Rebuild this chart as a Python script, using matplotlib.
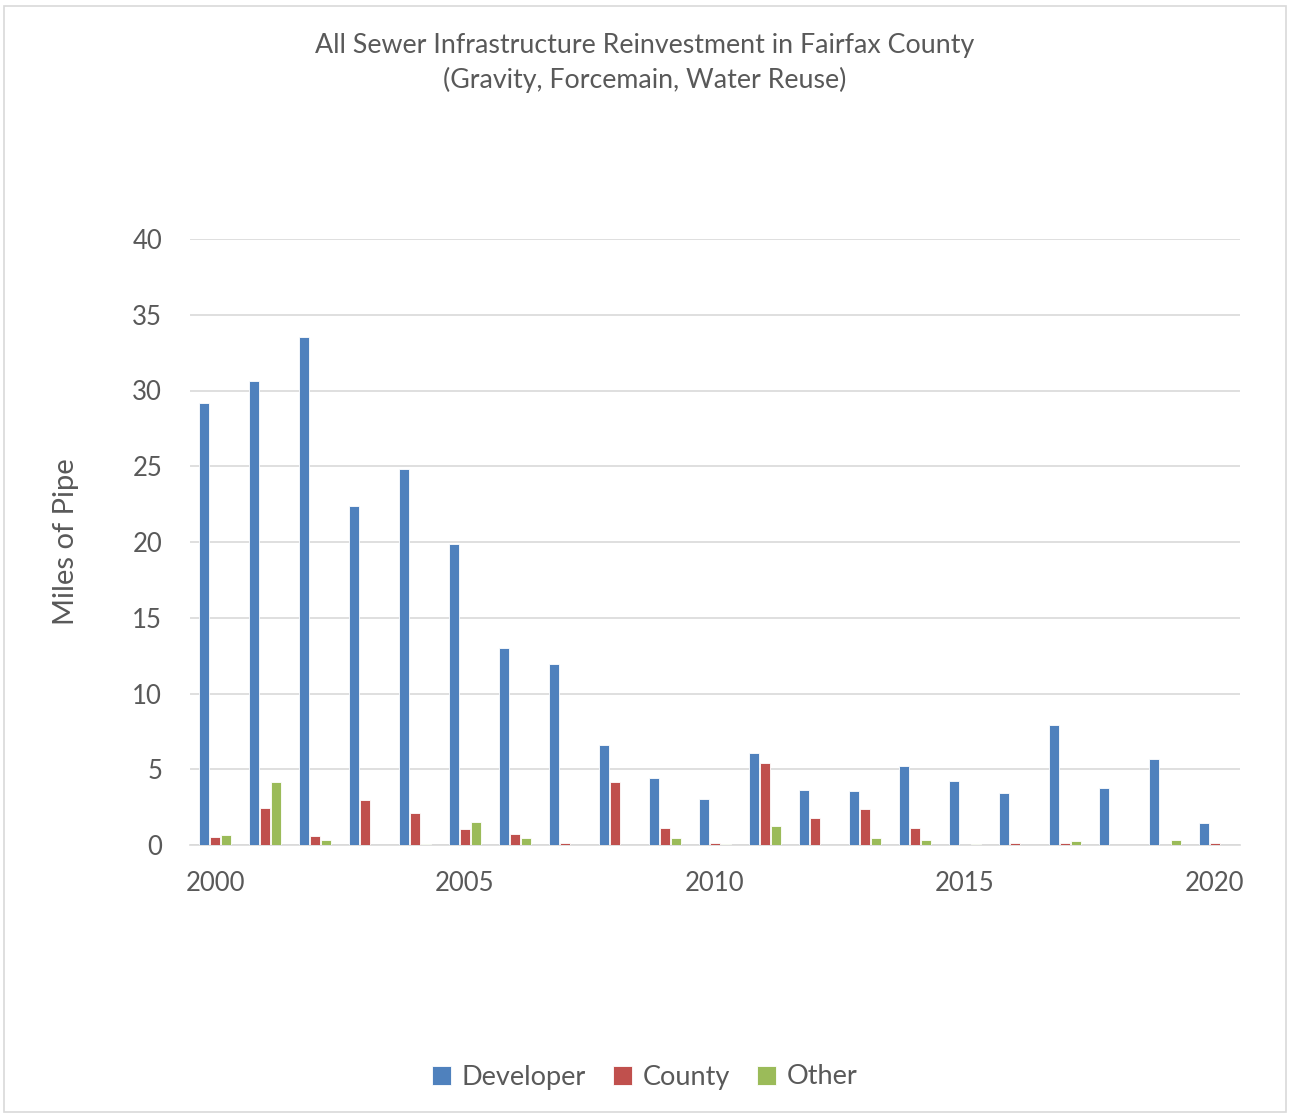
import matplotlib
matplotlib.use("Agg")
import matplotlib.pyplot as plt
import numpy as np
from matplotlib.patches import Rectangle

years = list(range(2000, 2021))
developer = [29.2, 30.6, 33.5, 22.4, 24.8, 19.9, 13.0, 11.95, 6.57, 4.4, 3.05,
             6.04, 3.65, 3.56, 5.24, 4.2, 3.41, 7.94, 3.74, 5.69, 1.46]
county = [0.53, 2.41, 0.6, 2.94, 2.1, 1.08, 0.73, 0.15, 4.14, 1.13, 0.13,
          5.4, 1.81, 2.39, 1.13, 0.0, 0.15, 0.15, 0.0, 0.0, 0.15]
other = [0.69, 4.18, 0.31, 0.0, 0.09, 1.55, 0.49, 0.0, 0.0, 0.49, 0.09,
         1.28, 0.0, 0.49, 0.35, 0.09, 0.0, 0.27, 0.0, 0.35, 0.02]
series_names = ["Developer", "County", "Other"]
colors = ["#4F81BD", "#C0504D", "#9BBB59"]
yticks = [0, 5, 10, 15, 20, 25, 30, 35, 40]
xtick_years = [2000, 2005, 2010, 2015, 2020]

plt.rcParams['font.family'] = ['Lato', 'DejaVu Sans']

fig = plt.figure(figsize=(12.9, 11.16), dpi=100)
fig.patches.append(Rectangle((0.003, 0.004), 0.994, 0.991, transform=fig.transFigure,
                             fill=False, edgecolor="#D9D9D9", linewidth=1.2))
ax = fig.add_axes([190/1290, 1 - 845/1116, 1050/1290, 606/1116])

x = np.arange(len(years))
w = 0.2
offs = [-0.22, 0.0, 0.22]
for vals, name, c, o in zip([developer, county, other], series_names, colors, offs):
    ax.bar(x + o, vals, width=w, color=c, edgecolor="white", linewidth=0.6, label=name, zorder=3)

ax.set_xlim(-0.5, len(years) - 0.5)
ax.set_ylim(0, 40)
ax.set_yticks(yticks)
ax.set_yticklabels([str(t) for t in yticks])
ax.set_xticks([years.index(y) for y in xtick_years])
ax.set_xticklabels([str(y) for y in xtick_years])
ax.tick_params(axis='both', length=0, labelsize=18.5, labelcolor="#595959")
ax.tick_params(axis='x', pad=19)
ax.tick_params(axis='y', pad=20)
ax.grid(axis='y', color="#D9D9D9", linewidth=1.2, zorder=0)
for s in ["top", "right", "left"]:
    ax.spines[s].set_visible(False)
ax.spines["bottom"].set_color("#D9D9D9")
ax.spines["bottom"].set_linewidth(1.2)
ax.set_ylabel("Miles of Pipe", fontsize=21, color="#595959", labelpad=38)

fig.text(0.5, 1 - 45/1116, "All Sewer Infrastructure Reinvestment in Fairfax County",
         ha="center", va="center", fontsize=19.3, color="#595959")
fig.text(0.5, 1 - 80/1116, "(Gravity, Forcemain, Water Reuse)",
         ha="center", va="center", fontsize=19.3, color="#595959")

leg = fig.legend(loc="center", bbox_to_anchor=(0.5, 1 - 1077/1116), ncol=3, frameon=False,
                 fontsize=19.5, handlelength=0.7, handleheight=0.7, handletextpad=0.4,
                 columnspacing=1.0)
for t in leg.get_texts():
    t.set_color("#595959")

fig.savefig("out.png", dpi=100, facecolor="white")
